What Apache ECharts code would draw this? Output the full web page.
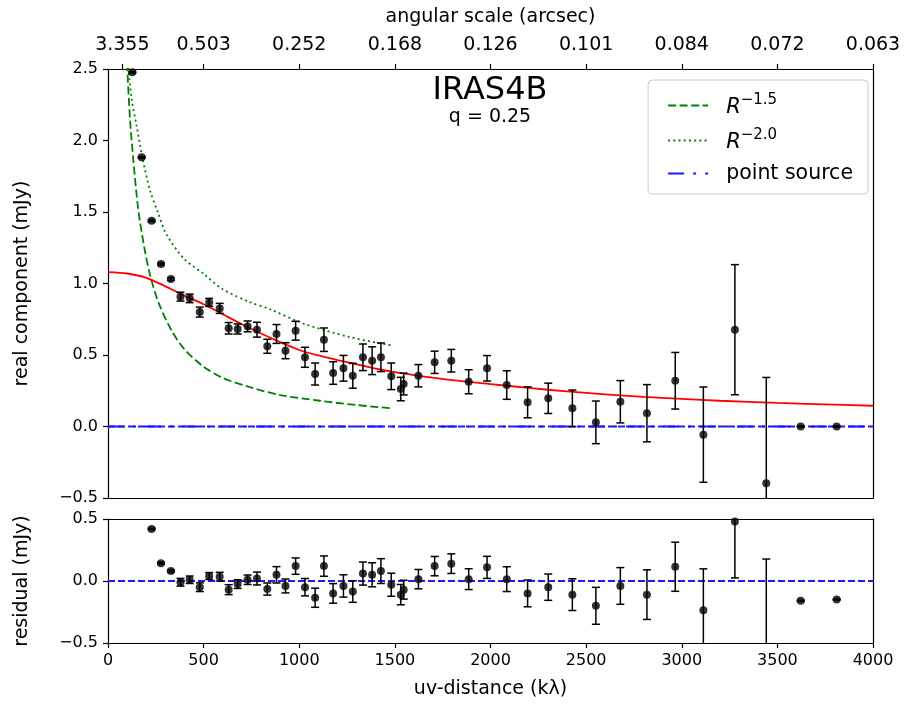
<!DOCTYPE html>
<html>
<head>
<meta charset="utf-8">
<script src="https://cdn.jsdelivr.net/npm/echarts@6/dist/echarts.min.js"></script>
<style>
  html, body { margin: 0; padding: 0; background: #fff; }
  #chart { width: 906px; height: 713px; }
</style>
</head>
<body>
<div id="chart"></div>
<script>
// Binned visibilities of IRAS4B: uv-distance (kλ), real part (mJy), 1σ error, residual after the model
const uv = [127, 176, 228, 277, 329, 379, 427, 480, 529, 584, 631, 678, 730, 779, 833, 881, 928, 981, 1030, 1083,
            1129, 1177, 1231, 1280, 1333, 1381, 1427, 1481, 1531, 1546, 1623, 1708, 1795, 1886, 1982, 2085, 2194, 2302,
            2428, 2551, 2679, 2818, 2966, 3113, 3278, 3442, 3622, 3810];
const realPart = [2.477, 1.882, 1.439, 1.136, 1.031, 0.908, 0.896, 0.80, 0.868, 0.826, 0.687, 0.682, 0.70, 0.677, 0.561,
                  0.647, 0.53, 0.67, 0.484, 0.367, 0.607, 0.374, 0.407, 0.355, 0.484, 0.46, 0.484, 0.351, 0.262, 0.297,
                  0.355, 0.449, 0.46, 0.313, 0.407, 0.29, 0.169, 0.197, 0.127, 0.029, 0.173, 0.093, 0.32, -0.057, 0.677,
                  -0.397, 0.0, 0.0];
const errBar = [0.005, 0.005, 0.006, 0.007, 0.009, 0.031, 0.03, 0.035, 0.028, 0.035, 0.04, 0.035, 0.038, 0.052, 0.049,
                0.066, 0.056, 0.066, 0.07, 0.077, 0.082, 0.079, 0.09, 0.087, 0.093, 0.097, 0.10, 0.093, 0.082, 0.076,
                0.078, 0.078, 0.079, 0.084, 0.089, 0.10, 0.108, 0.106, 0.128, 0.149, 0.148, 0.20, 0.198, 0.333, 0.455,
                0.74, 0.004, 0.004];
const residual = [1.42, 0.84, 0.42, 0.143, 0.08, -0.01, 0.01, -0.05, 0.04, 0.035, -0.07, -0.025, 0.01, 0.02, -0.065,
                  0.05, -0.04, 0.12, -0.05, -0.135, 0.12, -0.10, -0.04, -0.085, 0.06, 0.05, 0.08, -0.03, -0.11, -0.07,
                  0.015, 0.12, 0.14, 0.015, 0.11, 0.015, -0.10, -0.05, -0.11, -0.20, -0.04, -0.11, 0.115, -0.235, 0.48,
                  -0.563, -0.16, -0.15];

// Best-fit model curve (q = 0.25)
const modelUv = [0, 100, 200, 300, 400, 500, 600, 700, 800, 900, 1000, 1100, 1200, 1300, 1400, 1500, 1600, 1800, 2000,
                 2200, 2400, 2600, 2800, 3000, 3200, 3500, 3800, 4000];
const modelVal = [1.08, 1.07, 1.04, 0.98, 0.915, 0.855, 0.785, 0.715, 0.65, 0.59, 0.535, 0.497, 0.465, 0.435, 0.405,
                  0.38, 0.36, 0.325, 0.297, 0.27, 0.245, 0.225, 0.207, 0.193, 0.18, 0.165, 0.153, 0.145];

// Power-law envelopes
const r15Uv = [95, 101, 115, 132, 158, 190, 220, 263, 333, 400, 498, 600, 742, 900, 1108, 1300, 1490];
const r15Val = [2.70, 2.50, 2.15, 1.87, 1.52, 1.25, 1.06, 0.87, 0.67, 0.54, 0.42, 0.34, 0.275, 0.22, 0.18, 0.15, 0.127];
const r20Uv = [100, 106, 125, 150, 180, 220, 260, 307, 400, 498, 600, 742, 847, 1021, 1265, 1492];
const r20Val = [2.58, 2.50, 2.28, 2.10, 1.88, 1.65, 1.50, 1.34, 1.17, 1.07, 0.96, 0.87, 0.82, 0.72, 0.625, 0.565];

// Unresolved point source and zero level
const zeroUv = [0, 4000];
const zeroVal = [0, 0];

// Tick positions and labels
const uvTicks = [0, 500, 1000, 1500, 2000, 2500, 3000, 3500, 4000];
const angTicks = [75, 500, 1000, 1500, 2000, 2500, 3000, 3500, 4000];
const angLabels = ['3.355', '0.503', '0.252', '0.168', '0.126', '0.101', '0.084', '0.072', '0.063'];
const realTicks = [-0.5, 0.0, 0.5, 1.0, 1.5, 2.0, 2.5];
const residTicks = [-0.5, 0.0, 0.5];

const FONT = 'DejaVu Sans';
const BLACK = '#000';
const BLUE = '#1a1aff';
const GREEN = '#008000';
const pairs = (xs, ys) => xs.map((x, i) => [x, ys[i]]);
const fmt1 = v => v.toFixed(1).replace('-', '\u2212');

function errorBars(params, api) {
  const x = api.value(0), y = api.value(1), e = api.value(2);
  const top = api.coord([x, y + e]);
  const bot = api.coord([x, y - e]);
  const cw = 4;
  const cs = params.coordSys;
  const st = { stroke: BLACK, lineWidth: 1.5 };
  return {
    type: 'group',
    clipPath: { type: 'rect', shape: { x: cs.x, y: cs.y, width: cs.width, height: cs.height } },
    children: [
      { type: 'line', shape: { x1: top[0], y1: top[1], x2: bot[0], y2: bot[1] }, style: st },
      { type: 'line', shape: { x1: top[0] - cw, y1: top[1], x2: top[0] + cw, y2: top[1] }, style: st },
      { type: 'line', shape: { x1: bot[0] - cw, y1: bot[1], x2: bot[0] + cw, y2: bot[1] }, style: st }
    ]
  };
}

const axisLine = { show: true, onZero: false, lineStyle: { color: BLACK, width: 1.2 } };
const tick = { show: true, inside: false, length: 5, lineStyle: { color: BLACK, width: 1.2 } };
const labelStyle = { color: BLACK, fontFamily: FONT, fontSize: 16 };
const topLabelStyle = { color: BLACK, fontFamily: FONT, fontSize: 19 };
const nameStyle = { color: BLACK, fontFamily: FONT, fontSize: 19 };

const chart = echarts.init(document.getElementById('chart'), null, { renderer: 'canvas' });

chart.setOption({
  backgroundColor: '#fff',
  animation: false,
  grid: [
    { left: 108, right: 33, top: 69, height: 429 },
    { left: 108, right: 33, top: 519, height: 124 }
  ],
  xAxis: [
    { gridIndex: 0, type: 'value', position: 'bottom', min: 0, max: 4000, interval: 500,
      axisLine, axisTick: { show: false }, axisLabel: { show: false }, splitLine: { show: false } },
    { gridIndex: 0, type: 'value', position: 'top', min: 0, max: 4000,
      axisLine, splitLine: { show: false },
      axisTick: Object.assign({ customValues: angTicks }, tick),
      axisLabel: Object.assign({ customValues: angTicks, margin: 14,
        formatter: v => angLabels[angTicks.indexOf(v)] }, topLabelStyle),
      name: 'angular scale (arcsec)', nameLocation: 'middle', nameGap: 42, nameTextStyle: nameStyle },
    { gridIndex: 1, type: 'value', position: 'bottom', min: 0, max: 4000, interval: 500,
      axisLine, splitLine: { show: false },
      axisTick: Object.assign({ customValues: uvTicks }, tick),
      axisLabel: Object.assign({ customValues: uvTicks, margin: 10, formatter: v => String(v) }, labelStyle),
      name: 'uv-distance (k\u03bb)', nameLocation: 'middle', nameGap: 37, nameTextStyle: nameStyle },
    { gridIndex: 1, type: 'value', position: 'top', min: 0, max: 4000,
      axisLine, axisTick: { show: false }, axisLabel: { show: false }, splitLine: { show: false } }
  ],
  yAxis: [
    { gridIndex: 0, type: 'value', position: 'left', min: -0.5, max: 2.5, interval: 0.5,
      axisLine, splitLine: { show: false },
      axisTick: Object.assign({ customValues: realTicks }, tick),
      axisLabel: Object.assign({ customValues: realTicks, margin: 10, formatter: fmt1 }, labelStyle),
      name: 'real component (mJy)', nameLocation: 'middle', nameRotate: 90, nameGap: 76, nameTextStyle: nameStyle },
    { gridIndex: 0, type: 'value', position: 'right', min: -0.5, max: 2.5,
      axisLine, axisTick: { show: false }, axisLabel: { show: false }, splitLine: { show: false } },
    { gridIndex: 1, type: 'value', position: 'left', min: -0.5, max: 0.5, interval: 0.5,
      axisLine, splitLine: { show: false },
      axisTick: Object.assign({ customValues: residTicks }, tick),
      axisLabel: Object.assign({ customValues: residTicks, margin: 10, formatter: fmt1 }, labelStyle),
      name: 'residual (mJy)', nameLocation: 'middle', nameRotate: 90, nameGap: 76, nameTextStyle: nameStyle },
    { gridIndex: 1, type: 'value', position: 'right', min: -0.5, max: 0.5,
      axisLine, axisTick: { show: false }, axisLabel: { show: false }, splitLine: { show: false } }
  ],
  legend: {
    data: ['R-1.5', 'R-2.0', 'point source'],
    orient: 'vertical', right: 38, top: 80,
    itemWidth: 40, itemHeight: 14, itemGap: 10,
    padding: [13, 15, 10, 19],
    borderColor: '#cccccc', borderWidth: 1, borderRadius: 4, backgroundColor: '#fff',
    itemStyle: { opacity: 0 },
    formatter: name => ({ 'R-1.5': '{i|R}{s|\u22121.5}', 'R-2.0': '{i|R}{s|\u22122.0}' }[name] || '{t|' + name + '}'),
    textStyle: {
      color: BLACK, fontFamily: FONT, fontSize: 20.5,
      rich: {
        t: { fontSize: 20.5, color: BLACK, fontFamily: FONT, padding: [0, 0, 0, 13] },
        i: { fontStyle: 'italic', fontSize: 21, color: BLACK, fontFamily: FONT, padding: [0, 0, 0, 13],
             verticalAlign: 'bottom' },
        s: { fontSize: 15, color: BLACK, fontFamily: FONT, verticalAlign: 'top', padding: [0, 0, 10, 0] }
      }
    }
  },
  graphic: [
    { type: 'text', x: 490, y: 91, style: { text: 'IRAS4B', fill: BLACK, font: '32px "DejaVu Sans"',
      textAlign: 'center', textVerticalAlign: 'middle' } },
    { type: 'text', x: 490, y: 117, style: { text: 'q = 0.25', fill: BLACK, font: '19px "DejaVu Sans"',
      textAlign: 'center', textVerticalAlign: 'middle' } }
  ],
  series: [
    { name: 'R-1.5', type: 'line', xAxisIndex: 0, yAxisIndex: 0, data: pairs(r15Uv, r15Val),
      smooth: 0.3, showSymbol: false, symbol: 'none', clip: true,
      lineStyle: { color: GREEN, width: 1.8, type: [8, 3.5] }, itemStyle: { color: GREEN } },
    { name: 'R-2.0', type: 'line', xAxisIndex: 0, yAxisIndex: 0, data: pairs(r20Uv, r20Val),
      smooth: 0.3, showSymbol: false, symbol: 'none', clip: true,
      lineStyle: { color: GREEN, width: 1.8, type: [2, 3.2] }, itemStyle: { color: GREEN } },
    { name: 'point source', type: 'line', xAxisIndex: 0, yAxisIndex: 0, data: pairs(zeroUv, zeroVal),
      showSymbol: false, symbol: 'none',
      lineStyle: { color: BLUE, width: 1.8, type: [16, 9, 3, 9] }, itemStyle: { color: BLUE } },
    { name: 'zero', type: 'line', xAxisIndex: 0, yAxisIndex: 0, data: pairs(zeroUv, zeroVal),
      showSymbol: false, symbol: 'none',
      lineStyle: { color: BLUE, width: 1.8, type: [7, 3] } },
    { name: 'model', type: 'line', xAxisIndex: 0, yAxisIndex: 0, data: pairs(modelUv, modelVal),
      smooth: 0.3, showSymbol: false, symbol: 'none', clip: true,
      lineStyle: { color: '#ff0000', width: 1.8 } },
    { name: 'real err', type: 'custom', xAxisIndex: 0, yAxisIndex: 0, renderItem: errorBars,
      data: uv.map((u, i) => [u, realPart[i], errBar[i]]), z: 5 },
    { name: 'real', type: 'scatter', xAxisIndex: 0, yAxisIndex: 0, data: pairs(uv, realPart),
      symbolSize: 8, clip: true, itemStyle: { color: BLACK }, z: 6 },
    { name: 'resid zero', type: 'line', xAxisIndex: 2, yAxisIndex: 2, data: pairs(zeroUv, zeroVal),
      showSymbol: false, symbol: 'none',
      lineStyle: { color: BLUE, width: 1.8, type: [7, 3] } },
    { name: 'resid err', type: 'custom', xAxisIndex: 2, yAxisIndex: 2, renderItem: errorBars,
      data: uv.map((u, i) => [u, residual[i], errBar[i]]), z: 5 },
    { name: 'resid', type: 'scatter', xAxisIndex: 2, yAxisIndex: 2, data: pairs(uv, residual),
      symbolSize: 8, clip: true, itemStyle: { color: BLACK }, z: 6 }
  ]
});
</script>
</body>
</html>
